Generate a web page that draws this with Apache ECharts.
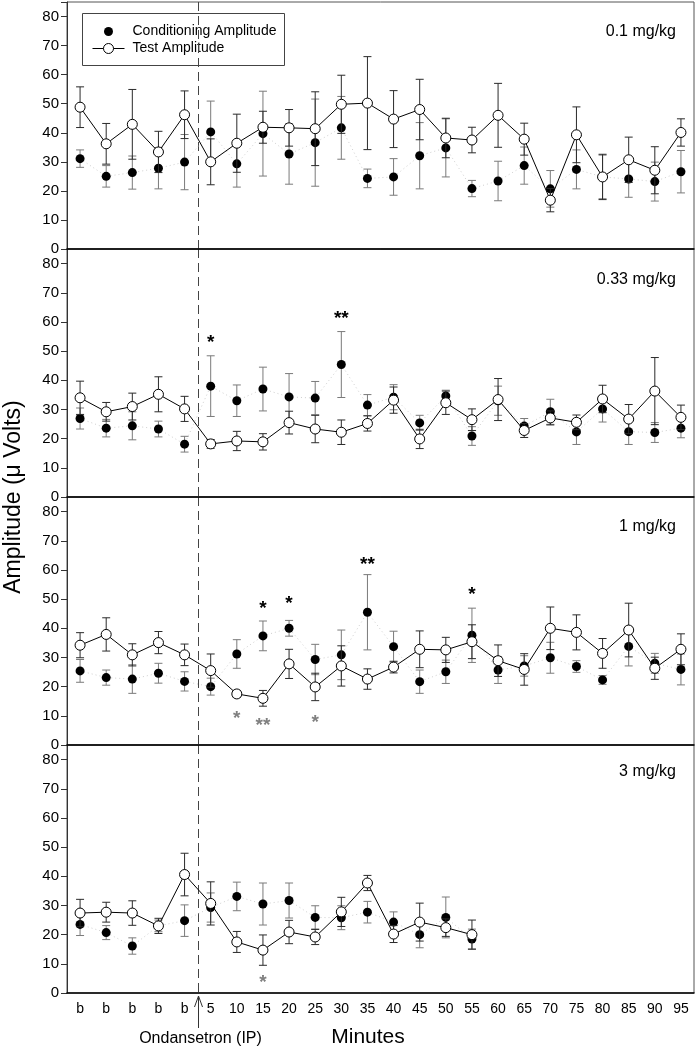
<!DOCTYPE html>
<html><head><meta charset="utf-8">
<script src="https://cdn.jsdelivr.net/npm/echarts@6/dist/echarts.min.js"></script>
<style>html,body{margin:0;padding:0;background:#fff}#c{width:698px;height:1050px}</style>
</head><body><div id="c"></div>
<script>
// ---------- DATA ----------
const categories = ['b','b','b','b','b','5','10','15','20','25','30','35','40','45','50','55','60','65','70','75','80','85','90','95'];
const yTickValues = [0,10,20,30,40,50,60,70,80];
const panelLabels = ['0.1 mg/kg','0.33 mg/kg','1 mg/kg','3 mg/kg'];
const injectionBetween = [4, 5]; // dashed line drawn between these category indices

// 0.1 mg/kg
const cond1    = [31.1,25.0,26.3,27.8,29.9,40.3,29.3,39.7,32.7,36.6,41.7,24.3,24.8,32.1,34.8,20.8,23.4,28.7,20.7,27.4,24.8,24.1,23.2,26.6];
const cond1Sem = [3.0,3.7,5.7,7.1,9.5,10.6,8.0,14.6,10.4,15.0,10.8,3.2,6.3,11.4,10.0,2.8,6.8,6.4,6.3,6.7,7.5,6.3,6.7,7.3];
const test1    = [48.8,36.2,42.9,33.4,46.2,30.0,36.4,41.9,41.7,41.4,49.8,50.2,44.7,48.0,38.2,37.5,46.0,37.8,16.8,39.3,24.8,30.7,27.1,40.1];
const test1Sem = [7.0,7.0,12.0,7.1,8.2,7.9,10.0,5.5,6.3,12.7,10.0,16.0,9.8,10.4,6.8,4.4,11.0,5.5,4.0,9.6,7.8,7.8,8.1,4.7];

// 0.33 mg/kg
const cond2    = [26.9,23.6,24.4,23.3,18.1,38.0,33.0,37.0,34.3,33.9,45.4,31.5,34.2,25.4,34.6,20.9,33.0,24.3,29.2,22.3,30.2,22.4,22.1,23.6];
const cond2Sem = [3.6,3.0,4.8,2.7,2.7,10.4,5.4,7.5,8.0,5.7,11.3,3.6,4.3,2.6,2.0,3.2,5.0,2.6,4.3,4.3,4.5,4.4,3.4,3.3];
const test2    = [34.0,29.2,31.0,35.2,30.2,18.2,19.2,18.9,25.5,23.3,22.2,25.2,33.2,19.9,32.3,26.5,33.4,22.8,27.1,25.6,33.6,26.7,36.3,27.3];
const test2Sem = [5.7,3.2,4.6,6.0,4.3,1.5,3.3,2.8,3.9,4.7,4.2,2.6,4.5,3.3,4.0,3.7,7.2,2.4,2.4,2.5,4.7,5.0,11.5,4.2];

// 1 mg/kg
const cond3    = [25.4,23.1,22.6,24.6,21.8,20.0,31.2,37.4,40.0,29.3,30.9,45.5,33.7,21.7,25.1,37.6,25.7,27.1,29.9,26.9,22.3,33.8,28.0,25.9];
const cond3Sem = [3.9,2.6,4.9,3.4,3.3,2.9,4.9,5.1,2.7,5.2,8.5,12.9,5.3,4.0,4.0,9.3,4.6,3.5,5.3,2.0,1.5,6.7,3.4,5.3];
const test3    = [34.2,37.9,30.9,35.1,30.9,25.5,17.5,16.0,27.8,19.9,27.1,22.6,26.7,32.8,32.6,35.4,28.9,25.9,40.0,38.6,31.4,39.4,26.3,32.8];
const test3Sem = [4.3,5.7,3.8,3.8,3.7,5.7,1.2,2.7,5.0,4.7,6.9,3.5,2.0,6.3,4.3,5.8,5.4,5.4,7.3,6.0,5.1,9.2,3.8,5.3];

// 3 mg/kg
const cond4    = [23.5,20.7,16.1,23.0,24.8,29.3,33.1,30.5,31.7,25.9,25.8,27.7,24.3,20.0,25.9,18.5,null,null,null,null,null,null,null,null];
const cond4Sem = [3.8,2.4,2.8,2.0,5.4,5.0,4.9,7.2,6.0,4.0,4.1,3.7,3.5,4.5,7.0,3.4,null,null,null,null,null,null,null,null];
const test4    = [27.4,27.7,27.4,23.0,40.6,30.7,17.5,14.7,20.9,19.2,27.8,37.7,20.2,24.3,22.4,20.0,null,null,null,null,null,null,null,null];
const test4Sem = [4.7,3.4,4.2,2.6,7.3,7.4,3.6,5.2,4.0,2.6,5.0,2.6,2.9,6.5,3.0,5.0,null,null,null,null,null,null,null,null];

// significance markers: [category index, value, text]
const stars2Black = [[5,54.3,'*'],[10,62.4,'**']];
const stars3Black = [[7,47.9,'*'],[8,49.7,'*'],[11,63.3,'**'],[15,52.8,'*']];
const stars3Gray  = [[6,10.3,'*'],[7,7.9,'**'],[9,9.0,'*']];
const stars4Gray  = [[7,4.8,'*']];

// ---------- CHART ----------
const FONT = '"Liberation Sans", Arial, Helvetica, sans-serif';
const panels = [
  {cond:cond1, condSem:cond1Sem, test:test1, testSem:test1Sem, black:[], gray:[]},
  {cond:cond2, condSem:cond2Sem, test:test2, testSem:test2Sem, black:stars2Black, gray:[]},
  {cond:cond3, condSem:cond3Sem, test:test3, testSem:test3Sem, black:stars3Black, gray:stars3Gray},
  {cond:cond4, condSem:cond4Sem, test:test4, testSem:test4Sem, black:[], gray:stars4Gray}
];
const gridTops = [2, 249, 497, 745];
const gridHeights = [247, 248, 248, 248];

function errData(vals, sems) {
  const out = [];
  vals.forEach((v, i) => { if (v != null && sems[i] != null) out.push([i, v - sems[i], v + sems[i]]); });
  return out;
}
function errRender(color) {
  return function (params, api) {
    const x = api.value(0);
    const p1 = api.coord([x, api.value(1)]);
    const p2 = api.coord([x, api.value(2)]);
    const w = 4;
    const st = {stroke: color, lineWidth: 1};
    return {type: 'group', children: [
      {type: 'line', shape: {x1: p1[0], y1: p1[1], x2: p2[0], y2: p2[1]}, style: st},
      {type: 'line', shape: {x1: p1[0]-w, y1: p1[1], x2: p1[0]+w, y2: p1[1]}, style: st},
      {type: 'line', shape: {x1: p2[0]-w, y1: p2[1], x2: p2[0]+w, y2: p2[1]}, style: st}
    ]};
  };
}
function starRender(list, color) {
  return function (params, api) {
    const p = api.coord([api.value(0), api.value(1)]);
    return {type: 'text', x: p[0], y: p[1] + 4, style: {
      text: list[params.dataIndex][2], fill: color, font: 'bold 19px ' + FONT,
      align: 'center', verticalAlign: 'middle'}};
  };
}
function dashRender(isLast) {
  return function (params, api) {
    const a = api.coord([api.value(0), 0]);
    const b = api.coord([api.value(1), 0]);
    const x = Math.round((a[0] + b[0]) / 2) + 0.5;
    const cs = params.coordSys;
    const children = [
      {type: 'line', shape: {x1: x, y1: cs.y, x2: x, y2: cs.y + cs.height},
       style: {stroke: '#444', lineWidth: 1, lineDash: [9, 5]}}
    ];
    if (isLast) {
      const y0 = cs.y + cs.height + 3;
      children.push(
        {type: 'line', shape: {x1: x, y1: y0, x2: x, y2: y0 + 32}, style: {stroke: '#333', lineWidth: 1}},
        {type: 'polyline', shape: {points: [[x-4, y0+11], [x, y0], [x+4, y0+11]]}, style: {stroke: '#333', lineWidth: 1, fill: null}},
        {type: 'text', x: x + 2, y: y0 + 43, style: {text: 'Ondansetron (IP)', fill: '#000', font: '16px ' + FONT, align: 'center', verticalAlign: 'middle'}}
      );
    }
    return {type: 'group', children: children};
  };
}

const grid = [], xAxis = [], yAxis = [], series = [];
panels.forEach((p, k) => {
  grid.push({left: 67, right: 4, top: gridTops[k], height: gridHeights[k], show: true, borderColor: '#555', borderWidth: 1, backgroundColor: 'transparent'});
  xAxis.push({type: 'category', gridIndex: k, data: categories, boundaryGap: true,
    axisLine: {lineStyle: {color: '#000', width: 1.5}},
    axisTick: {inside: true, alignWithLabel: true, length: 8, lineStyle: {color: '#333'}},
    axisLabel: {show: k === 3, color: '#000', fontSize: 14, fontFamily: FONT, margin: 9, interval: 0},
    splitLine: {show: false}, z: 5});
  yAxis.push({type: 'value', gridIndex: k, min: 0, max: 85, interval: 10,
    axisLine: {show: true, lineStyle: {color: '#333'}},
    axisTick: {show: true, inside: false, length: 6, lineStyle: {color: '#333'}},
    axisLabel: {color: '#000', fontSize: 15, fontFamily: FONT, margin: 8,
      formatter: v => (yTickValues.indexOf(v) >= 0 ? String(v) : '')},
    splitLine: {show: false}});
  series.push({type: 'custom', xAxisIndex: k, yAxisIndex: k, data: [injectionBetween], renderItem: dashRender(k === 3), z: 0, silent: true, clip: false});
  series.push({type: 'custom', name: 'Conditioning SEM', xAxisIndex: k, yAxisIndex: k, data: errData(p.cond, p.condSem), renderItem: errRender('#7a7a7a'), encode: {x: 0, y: [1, 2]}, z: 1});
  series.push({type: 'line', name: 'Conditioning Amplitude', xAxisIndex: k, yAxisIndex: k, data: p.cond,
    symbol: 'circle', symbolSize: 9, itemStyle: {color: '#000'},
    lineStyle: {color: '#cfcfcf', width: 1, type: [1, 3]}, connectNulls: false, z: 2, animation: false});
  series.push({type: 'custom', name: 'Test SEM', xAxisIndex: k, yAxisIndex: k, data: errData(p.test, p.testSem), renderItem: errRender('#2a2a2a'), encode: {x: 0, y: [1, 2]}, z: 3});
  series.push({type: 'line', name: 'Test Amplitude', xAxisIndex: k, yAxisIndex: k, data: p.test,
    symbol: 'circle', symbolSize: 10, itemStyle: {color: '#fff', borderColor: '#000', borderWidth: 1},
    lineStyle: {color: '#000', width: 1}, z: 4, animation: false});
  if (p.black.length) series.push({type: 'custom', xAxisIndex: k, yAxisIndex: k, data: p.black.map(s => [s[0], s[1]]), renderItem: starRender(p.black, '#000'), z: 6});
  if (p.gray.length) series.push({type: 'custom', xAxisIndex: k, yAxisIndex: k, data: p.gray.map(s => [s[0], s[1]]), renderItem: starRender(p.gray, '#808080'), z: 6});
});

const labelYs = [33, 281, 528, 773];
const graphic = [];
panelLabels.forEach((t, k) => graphic.push({type: 'text', right: 22, top: labelYs[k] - 9,
  style: {text: t, fill: '#000', font: '16px ' + FONT}}));
graphic.push({type: 'text', x: 14, y: 497, rotation: Math.PI / 2,
  style: {text: 'Amplitude (\u03bc Volts)', fill: '#000', font: '23px ' + FONT, align: 'center', verticalAlign: 'middle'}});
graphic.push({type: 'text', x: 368, y: 1037,
  style: {text: 'Minutes', fill: '#000', font: '21px ' + FONT, align: 'center', verticalAlign: 'middle'}});
// legend box
graphic.push({type: 'group', left: 82, top: 13, children: [
  {type: 'rect', shape: {x: 0, y: 0, width: 202, height: 52}, style: {fill: '#fff', stroke: '#444', lineWidth: 1}},
  {type: 'circle', shape: {cx: 26, cy: 18, r: 4.5}, style: {fill: '#000'}},
  {type: 'text', x: 50, y: 18, style: {text: 'Conditioning Amplitude', fill: '#000', font: '14px ' + FONT, verticalAlign: 'middle'}},
  {type: 'line', shape: {x1: 10, y1: 35, x2: 42, y2: 35}, style: {stroke: '#000', lineWidth: 1}},
  {type: 'circle', shape: {cx: 26, cy: 35, r: 5}, style: {fill: '#fff', stroke: '#000', lineWidth: 1}},
  {type: 'text', x: 50, y: 35, style: {text: 'Test Amplitude', fill: '#000', font: '14px ' + FONT, verticalAlign: 'middle'}}
]});

const chart = echarts.init(document.getElementById('c'), null, {renderer: 'canvas'});
chart.setOption({animation: false, backgroundColor: '#fff', grid, xAxis, yAxis, series, graphic});
</script></body></html>
